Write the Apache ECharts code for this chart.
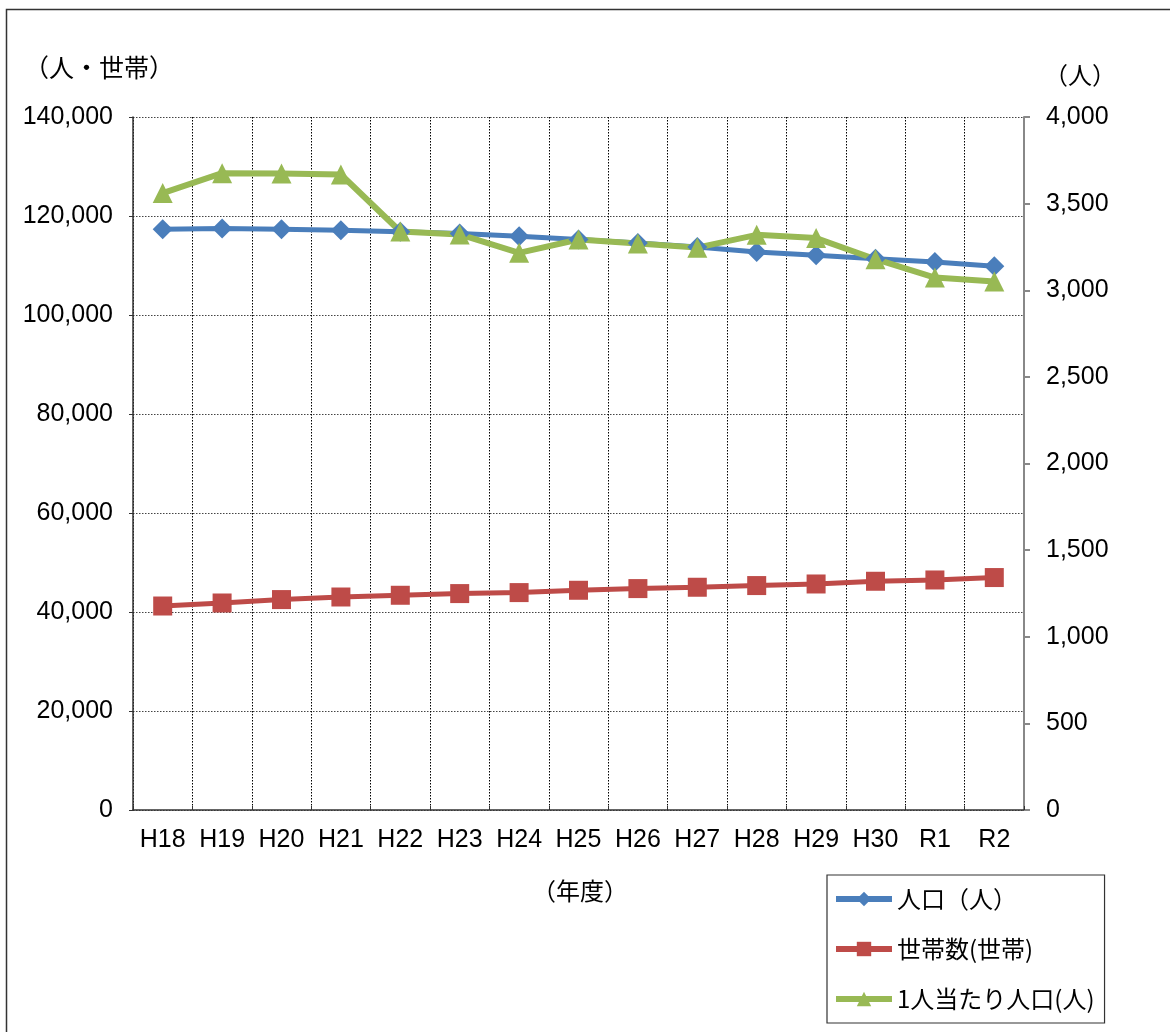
<!DOCTYPE html>
<html>
<head>
<meta charset="utf-8">
<script src="https://cdn.jsdelivr.net/npm/echarts@6/dist/echarts.min.js"></script>
<style>
html,body{margin:0;padding:0;background:#fff;}
#chart{width:1170px;height:1032px;}
</style>
</head>
<body>
<div id="chart"></div>
<script>
const categories = ['H18','H19','H20','H21','H22','H23','H24','H25','H26','H27','H28','H29','H30','R1','R2'];
const population = [117310,117450,117310,117110,116840,116440,115890,115230,114540,113730,112720,112050,111380,110700,109830];
const households = [41210,41820,42510,43030,43380,43720,43920,44390,44730,45000,45340,45660,46210,46470,46960];
const perHousehold = [3561,3676,3674,3668,3339,3322,3216,3293,3270,3246,3320,3301,3179,3073,3050];
const leftTicks = { min: 0, max: 140000, interval: 20000 };
const rightTicks = { min: 0, max: 4000, interval: 500 };
const seriesNames = ['人口（人）','世帯数(世帯)','1人当たり人口(人)'];

const numFont = '"Liberation Sans", Arial, sans-serif';
const jpFont = '"Noto Sans CJK JP", sans-serif';
const fmt = v => v.toLocaleString('en-US');

const chart = echarts.init(document.getElementById('chart'), null, {renderer:'canvas'});
chart.setOption({
  animation: false,
  backgroundColor: '#fff',
  grid: { left: 133, right: 146, top: 117, bottom: 222, containLabel: false },
  graphic: [
    { type: 'rect', shape: { x: 6.5, y: 9.5, width: 1200, height: 1100 },
      style: { fill: 'none', stroke: '#333', lineWidth: 1.5 }, silent: true },
    { type: 'text', left: 24, top: 55, style: { text: '（人・世帯）', font: '25px ' + jpFont, fill: '#000' } },
    { type: 'text', left: 1044, top: 63, style: { text: '（人）', font: '24px ' + jpFont, fill: '#000' } },
    { type: 'text', left: 532, top: 879, style: { text: '（年度）', font: '24px ' + jpFont, fill: '#000' } }
  ],
  legend: {
    orient: 'vertical',
    left: 827, top: 875,
    padding: [11, 10, 11, 6],
    itemWidth: 56, itemHeight: 18,
    itemGap: 24,
    borderColor: '#333', borderWidth: 1.2,
    lineStyle: { width: 6 },
    textStyle: { fontFamily: jpFont, fontSize: 24, color: '#000', lineHeight: 26 },
    data: seriesNames
  },
  xAxis: {
    type: 'category',
    data: categories,
    boundaryGap: true,
    axisLine: { lineStyle: { color: '#333', width: 1.5 } },
    axisTick: { show: true, inside: true, length: 4, interval: 0, lineStyle: { color: '#333' } },
    splitLine: { show: true, interval: 0, lineStyle: { color: '#000', type: [1.5, 1.5], width: 1 } },
    axisLabel: { interval: 0, margin: 18, fontFamily: numFont, fontSize: 25, color: '#000' }
  },
  yAxis: [
    {
      type: 'value',
      min: leftTicks.min, max: leftTicks.max, interval: leftTicks.interval,
      axisLine: { show: true, lineStyle: { color: '#333', width: 1.5 } },
      axisTick: { show: true, length: 4, lineStyle: { color: '#333' } },
      splitLine: { show: true, lineStyle: { color: '#444', type: [1.5, 1.5], width: 1 } },
      axisLabel: { margin: 20, fontFamily: numFont, fontSize: 25, color: '#000', formatter: fmt }
    },
    {
      type: 'value',
      min: rightTicks.min, max: rightTicks.max, interval: rightTicks.interval,
      position: 'right',
      axisLine: { show: true, lineStyle: { color: '#888', width: 2 } },
      axisTick: { show: true, length: 6, lineStyle: { color: '#888', width: 2 } },
      splitLine: { show: false },
      axisLabel: { margin: 22, fontFamily: numFont, fontSize: 25, color: '#000', formatter: fmt }
    }
  ],
  series: [
    {
      name: seriesNames[0], type: 'line', yAxisIndex: 0, data: population,
      symbol: 'diamond', symbolSize: 20,
      lineStyle: { color: '#4a7ebb', width: 5 },
      itemStyle: { color: '#4a7ebb' }
    },
    {
      name: seriesNames[1], type: 'line', yAxisIndex: 0, data: households,
      symbol: 'rect', symbolSize: 19,
      lineStyle: { color: '#be4b48', width: 5 },
      itemStyle: { color: '#be4b48' }
    },
    {
      name: seriesNames[2], type: 'line', yAxisIndex: 1, data: perHousehold,
      symbol: 'triangle', symbolSize: 20,
      lineStyle: { color: '#98b954', width: 6 },
      itemStyle: { color: '#98b954' }
    }
  ]
});
</script>
</body>
</html>
